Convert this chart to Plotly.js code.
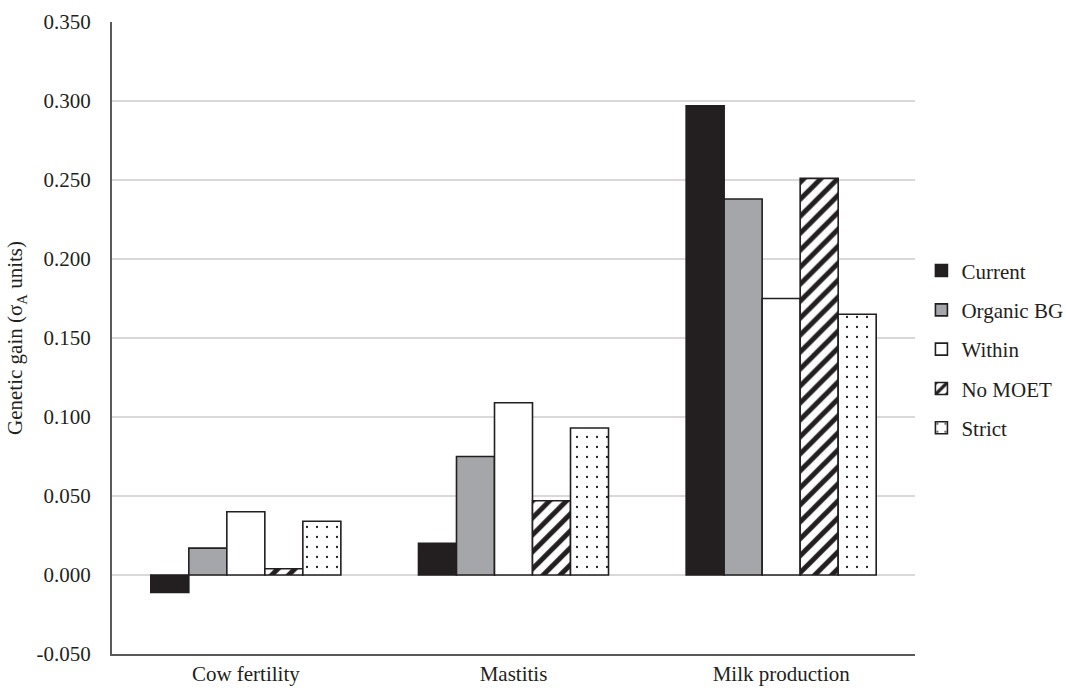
<!DOCTYPE html>
<html><head><meta charset="utf-8">
<script src="https://cdn.plot.ly/plotly-3.0.1.min.js"></script>
<style>body{margin:0;background:#fff}#c{width:1066px;height:690px}</style>
</head><body><div id="c"></div>
<script>
const categories = ["Cow fertility", "Mastitis", "Milk production"];
const current   = [-0.011, 0.020, 0.297];
const organicBG = [0.017, 0.075, 0.238];
const within    = [0.040, 0.109, 0.175];
const noMOET    = [0.004, 0.047, 0.251];
const strict    = [0.034, 0.093, 0.165];
const seriesNames = ["Current", "Organic BG", "Within", "No MOET", "Strict"];
const yTicks = [-0.05, 0, 0.05, 0.1, 0.15, 0.2, 0.25, 0.3, 0.35];
const yTickText = ["-0.050", "0.000", "0.050", "0.100", "0.150", "0.200", "0.250", "0.300", "0.350"];

const font = {family: "Liberation Serif, Times New Roman, serif", color: "#231f20", size: 21};
const line = {color: "#231f20", width: 1.6};
function tr(name, y, marker, i) {
  return {type: "bar", name: name, x: categories, y: y, legendgroup: "g" + i,
          marker: Object.assign({line: line}, marker)};
}
const data = [
  tr(seriesNames[0], current, {color: "#231f20"}, 0),
  tr(seriesNames[1], organicBG, {color: "#a5a6a9"}, 1),
  tr(seriesNames[2], within, {color: "#ffffff"}, 2),
  tr(seriesNames[3], noMOET, {color: "#ffffff", pattern: {shape: "/", fgcolor: "#231f20", bgcolor: "#ffffff", size: 12, solidity: 0.42}}, 3),
  tr(seriesNames[4], strict, {color: "#ffffff", pattern: {shape: ".", fgcolor: "#231f20", bgcolor: "#ffffff", size: 10, solidity: 0.04}}, 4)
];
const layout = {
  width: 1066, height: 690,
  margin: {l: 112, r: 151, t: 22, b: 36, autoexpand: false},
  paper_bgcolor: "#fff", plot_bgcolor: "#fff",
  font: font,
  barmode: "group", bargap: 0.29, bargroupgap: 0,
  showlegend: true,
  legend: {x: 1.008, y: 0.482, yanchor: "middle", xanchor: "left", font: font,
           traceorder: "grouped", tracegroupgap: 9, itemwidth: 30},
  xaxis: {showgrid: false, showline: true, linecolor: "#595959", linewidth: 2,
          ticks: "", tickfont: font, zeroline: false},
  yaxis: {range: [-0.05, 0.35], tickvals: yTicks, ticktext: yTickText,
          showgrid: true, gridcolor: "#d9d9d9", gridwidth: 2,
          zeroline: true, zerolinecolor: "#d9d9d9", zerolinewidth: 2,
          showline: true, linecolor: "#595959", linewidth: 2, ticks: "",
          tickfont: font, ticklabelstandoff: 15,
          title: {text: "Genetic gain (σ<sub>A</sub> units)", font: font, standoff: 8}}
};
Plotly.newPlot("c", data, layout, {displayModeBar: false});
</script></body></html>
